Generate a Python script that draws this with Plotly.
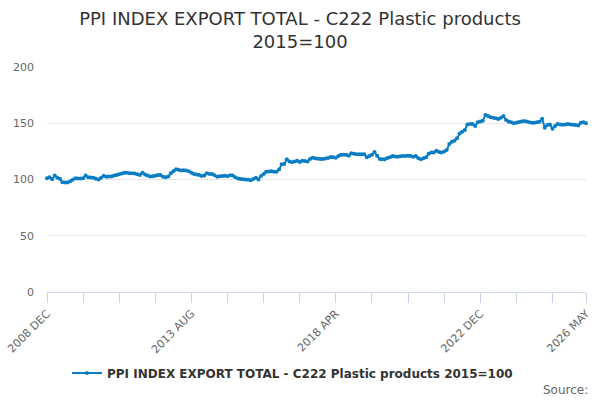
import pandas as pd
import plotly.graph_objs as go

# monthly categories, 2008 DEC .. 2026 MAY
months = [d.strftime('%Y %b').upper() for d in pd.date_range('2008-12-01', '2026-05-01', freq='MS')]

ppi_values = [
    101.2, 102.1, 100.3, 103.6, 101.5, 100.6, 97.6, 97.4, 97.3, 98.5, 99.8, 101.2,
    101.0, 100.9, 101.2, 103.6, 102.1, 101.8, 101.5, 100.6, 100.0, 101.5, 103.3, 102.4,
    102.6, 102.7, 103.5, 104.1, 104.6, 105.3, 105.9, 106.0, 105.6, 105.5, 105.3, 104.6,
    103.9, 105.9, 104.4, 103.5, 102.7, 103.0, 103.3, 104.1, 104.1, 102.4, 102.1, 102.7,
    105.5, 107.4, 109.2, 108.6, 108.0, 108.2, 108.0, 107.4, 106.0, 105.0, 104.5, 104.0,
    103.1, 103.5, 105.5, 105.0, 104.9, 103.8, 102.5, 102.8, 103.1, 103.4, 103.0, 103.7,
    103.5, 101.9, 101.0, 100.4, 100.2, 100.1, 99.8, 99.3, 100.5, 101.6, 100.1, 103.1,
    105.0, 107.0, 107.2, 107.3, 107.0, 107.0, 109.0, 113.5, 113.8, 118.0, 115.9, 115.3,
    116.0, 116.7, 115.6, 116.7, 116.4, 116.1, 118.2, 119.4, 119.0, 118.5, 118.3, 118.2,
    118.6, 119.1, 120.0, 119.7, 119.4, 120.8, 122.0, 122.0, 122.0, 121.2, 123.3, 122.8,
    122.4, 122.4, 122.4, 122.4, 119.7, 121.0, 122.0, 124.4, 121.2, 118.2, 118.0, 117.9,
    119.1, 119.7, 120.9, 120.5, 120.3, 120.6, 120.9, 121.0, 121.2, 120.8, 120.3, 120.9,
    119.0, 117.9, 118.8, 119.7, 123.0, 123.9, 123.9, 125.6, 124.5, 124.1, 125.0, 126.2,
    131.6, 133.5, 134.5, 136.6, 141.0, 142.5, 144.0, 149.0, 149.3, 149.3, 147.6, 150.8,
    151.5, 152.3, 157.3, 156.4, 155.3, 155.0, 154.5, 153.8, 155.0, 156.4, 152.9, 151.5,
    150.8, 149.9, 150.5, 151.1, 151.5, 152.0, 151.5, 150.8, 150.5, 150.5, 151.0, 151.4,
    154.1, 146.1, 148.4, 149.0, 145.2, 147.6, 149.3, 149.0, 148.7, 149.0, 149.3, 149.0,
    148.7, 148.4, 148.0, 150.5, 150.8, 150.0,
]

# ticks every 14 months plus the last month, labels on every 4th tick
tick_idx = list(range(0, len(months), 14)) + [len(months) - 1]
tick_labels = ['2008 DEC', '', '', '', '2013 AUG', '', '', '', '2018 APR', '', '', '', '2022 DEC', '', '', '2026 MAY']

series_name = 'PPI INDEX EXPORT TOTAL - C222 Plastic products 2015=100'
line_col = '#0b7dc3'

fig = go.Figure(go.Scatter(
    x=months, y=ppi_values,
    name='<b>' + series_name + '</b>',
    mode='lines+markers',
    line=dict(color=line_col, width=2),
    marker=dict(color=line_col, size=4),
    cliponaxis=False,
))

fig.update_layout(
    autosize=False,
    width=600,
    height=400,
    margin=dict(l=46.5, r=14, t=67, b=108),
    paper_bgcolor='white',
    plot_bgcolor='white',
    font=dict(family='DejaVu Sans', color='#666666'),
    title={
        'text': 'PPI INDEX EXPORT TOTAL - C222 Plastic products<br>2015=100',
        'x': 0.5,
        'xanchor': 'center',
        'y': 1 - 25 / 400,
        'yanchor': 'top',
        'font': {'family': 'DejaVu Sans', 'size': 18, 'color': '#333333'},
    },
    showlegend=True,
    legend=dict(
        orientation='h',
        x=0.5 - 24 / 539.5, xanchor='center',
        y=-0.36, yanchor='middle',
        font=dict(size=12, color='#333333'),
    ),
    xaxis=dict(
        type='category',
        range=[0, len(months) - 1],
        tickmode='array',
        tickvals=[months[i] for i in tick_idx],
        ticktext=tick_labels,
        tickangle=-45,
        ticks='outside',
        ticklen=10,
        tickcolor='#ccd6eb',
        showline=True,
        linecolor='#ccd6eb',
        showgrid=False,
        automargin=False,
        tickfont=dict(size=11, color='#666666'),
    ),
    yaxis=dict(
        range=[0, 200],
        tickvals=[0, 50, 100, 150, 200],
        showgrid=True,
        gridcolor='#e6e6e6',
        zeroline=False,
        showline=False,
        automargin=False,
        ticklabelstandoff=12,
        tickfont=dict(size=11, color='#666666'),
    ),
)

fig.add_annotation(
    text='Source:', xref='paper', yref='paper',
    x=(590 - 46.5) / (600 - 46.5 - 14), y=(292 - 390) / 225,
    xanchor='right', yanchor='middle', showarrow=False,
    font=dict(size=12, color='#666666'),
)

# page body has an 8px default margin, drop it so the chart sits at 0,0
fig.write_html('out.html', config={'displayModeBar': False},
               post_script="document.body.style.margin='0px';")
